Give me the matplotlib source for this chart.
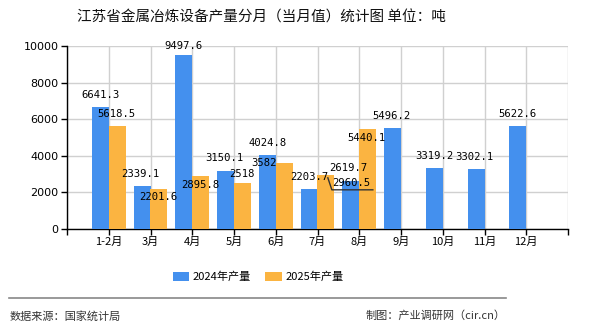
import numpy as np
import matplotlib.pyplot as plt

# Chart data
months = ["1-2月", "3月", "4月", "5月", "6月", "7月", "8月", "9月", "10月", "11月", "12月"]
prod_2024 = [6641.3, 2339.1, 9497.6, 3150.1, 4024.8, 2203.7, 2619.7, 5496.2, 3319.2, 3302.1, 5622.6]
prod_2025 = [5618.5, 2201.6, 2895.8, 2518, 3582, 2960.5, 5440.1]

# Label offsets in pixels (dx, dy) as placed in the original
off_2024 = [(0, 12), (-2, 12), (0, 9), (-1, 13), (0, 12), (0, 12), (-3, 13), (-1, 12), (0, 12), (-2, 12), (0, 12)]
off_2025 = [(-1, 12), (-1, -8), (0, -9), (0, 9), (-20, 0), (25, -8), (-1, -9)]

blue = "#4490EE"
orange = "#FBB441"

plt.rcParams['font.family'] = ['Noto Sans CJK SC', 'DejaVu Sans']

fig = plt.figure(figsize=(5.9, 3.3), dpi=100)
ax = fig.add_axes([67 / 590, 1 - 229 / 330, 501 / 590, 183 / 330])

x = np.arange(len(months))
w = 0.41
ax.bar(x - 0.2, prod_2024, width=w, color=blue, label="2024年产量", zorder=3)
x2 = x[:len(prod_2025)]
ax.bar(x2 + 0.2, prod_2025, width=w, color=orange, label="2025年产量", zorder=3)

num_font = dict(family="DejaVu Sans Mono", fontsize=7.6, color="black")
for xi, v, (dx, dy) in zip(x - 0.2, prod_2024, off_2024):
    ax.annotate(f"{v:g}", (xi, v), xytext=(dx, dy), textcoords="offset pixels",
                ha="center", va="center", zorder=5, **num_font)
for xi, v, (dx, dy) in zip(x2 + 0.2, prod_2025, off_2025):
    ax.annotate(f"{v:g}", (xi, v), xytext=(dx, dy), textcoords="offset pixels",
                ha="center", va="center", zorder=5, **num_font)

ax.set_xlim(-1, 11)
ax.set_ylim(0, 10000)

# leader line for the moved 7月 label
i7 = 5
disp = ax.transData.transform((x2[i7] + 0.2, prod_2025[i7]))
pts = np.array([[2, -3], [6, -15], [47, -15]]) + disp
line = ax.transData.inverted().transform(pts)
ax.plot(line[:, 0], line[:, 1], color="#333333", lw=1, zorder=6, clip_on=False)

ax.set_yticks(np.arange(0, 10001, 2000))
ax.set_xticks(np.arange(-1, 12))
ax.set_xticklabels([""] + months + [""], fontsize=8)
ax.tick_params(axis="y", labelsize=8, length=4, width=1, pad=2)
ax.tick_params(axis="x", length=4, width=1, pad=2)
for lab in ax.get_yticklabels():
    lab.set_family("DejaVu Sans")
ax.grid(True, color="#D0D0D0", lw=1, zorder=0)
for s in ["top", "right"]:
    ax.spines[s].set_visible(False)
for s in ["left", "bottom"]:
    ax.spines[s].set_color("black")
    ax.spines[s].set_linewidth(1)

fig.text(261 / 590, 1 - 18 / 330, "江苏省金属冶炼设备产量分月（当月值）统计图 单位：吨",
         ha="center", va="center", fontsize=10.5, color="#111111")

ax.legend(loc="center", bbox_to_anchor=(258 / 590, 1 - 277 / 330), bbox_transform=fig.transFigure,
          ncol=2, frameon=False, fontsize=8, handlelength=1.5, handleheight=0.8,
          columnspacing=1.3, handletextpad=0.3)

fig.add_artist(plt.Line2D([9 / 590, 506 / 590], [1 - 298 / 330] * 2, color="#888888", lw=1.2))
fig.text(10 / 590, 1 - 316 / 330, "数据来源：国家统计局", ha="left", va="center", fontsize=8, color="#333333")
fig.text(506 / 590, 1 - 316 / 330, "制图：产业调研网（cir.cn）", ha="right", va="center", fontsize=8, color="#333333")

fig.savefig("out.png", dpi=100)
